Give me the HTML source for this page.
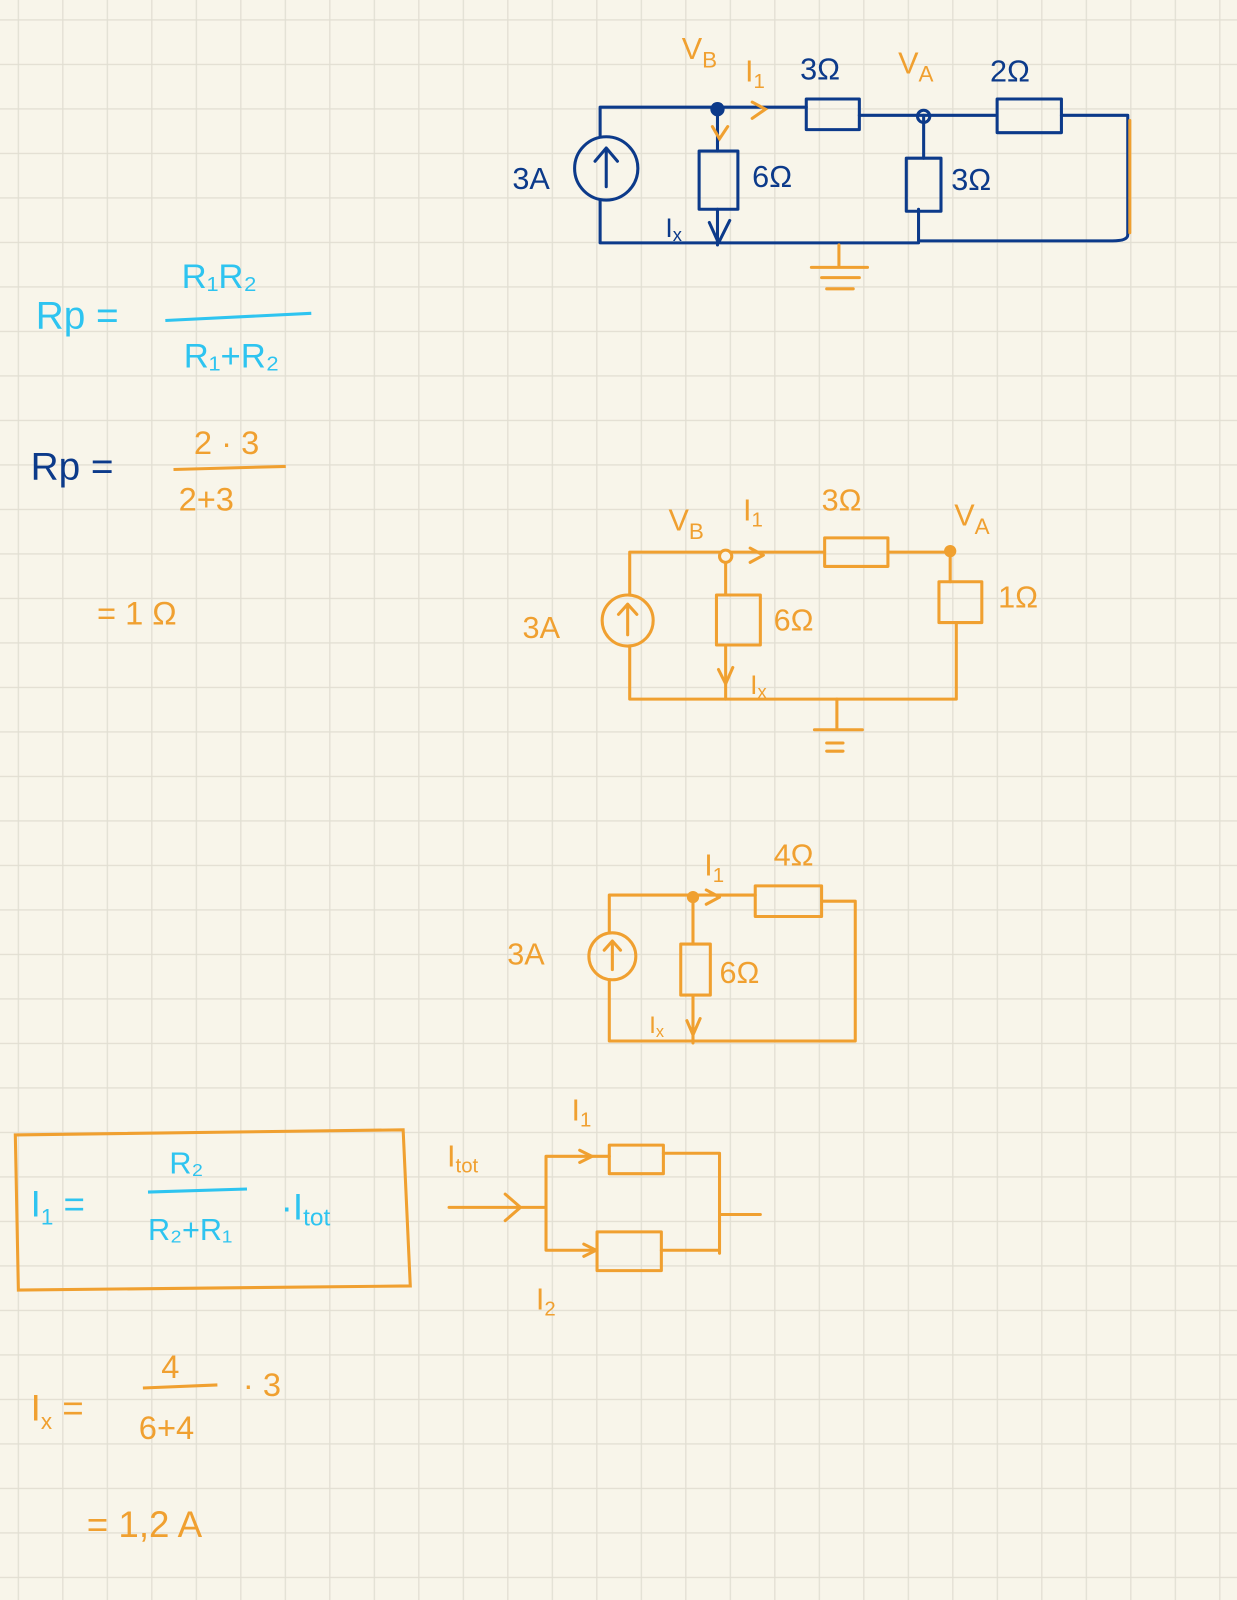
<!DOCTYPE html>
<html><head><meta charset="utf-8"><style>
html,body{margin:0;padding:0;background:#f8f5ea;}
svg{display:block}
text{font-family:"Liberation Sans",sans-serif;}
</style></head><body>
<svg width="1237" height="1600" viewBox="0 0 1237 1600" xmlns="http://www.w3.org/2000/svg">
<defs>
<pattern id="g" x="17.7" y="19.3" width="44.5" height="44.5" patternUnits="userSpaceOnUse">
<path d="M0 0V44.5M0 0H44.5" stroke="#e1ded2" stroke-width="2.5" fill="none"/>
</pattern>
</defs>
<rect width="1237" height="1600" fill="#f8f5ea"/>
<rect width="1237" height="1600" fill="url(#g)"/>
<g transform="scale(1.0206)">

<!-- Top circuit (blue) -->
<g stroke="#0c3a8a" stroke-width="3" fill="none" stroke-linecap="round" stroke-linejoin="round">
<path d="M588 133 V105 H790 M842 113 H975 M1040 113 H1105 V230 Q1105 236 1090 236 H900 M900 205 V236 M588 197 V238 H900"/>
<circle cx="594" cy="165" r="31"/>
<path d="M594 183 V145 M583 158 L594 145 L605 158"/>
<rect x="790" y="97" width="52" height="30"/>
<rect x="977" y="97" width="63" height="33"/>
<path d="M703 107 V148 M703 205 V240"/>
<rect x="685" y="148" width="38" height="57"/>
<path d="M905 113 V155"/>
<rect x="888" y="155" width="34" height="52"/>
<path d="M695 218 L704 238 L715 216"/>
</g>
<circle cx="703" cy="107" r="7" fill="#0c3a8a"/>
<circle cx="905" cy="114" r="6" fill="none" stroke="#0c3a8a" stroke-width="3"/>
<g stroke="#f0a030" stroke-width="3" fill="none" stroke-linecap="round">
<path d="M737 100 L750 107 L737 116 M698 124 L705 136 L713 124 M1107 118 V228"/>
<path d="M822 240 V260 M795 262 H850 M805 272 H842 M810 283 H836"/>
</g>
<g fill="#f0a030" font-size="30">
<text x="668" y="58">V<tspan font-size="22" dy="8">B</tspan></text>
<text x="730" y="80">I<tspan font-size="20" dy="6">1</tspan></text>
<text x="880" y="72">V<tspan font-size="22" dy="8">A</tspan></text>
</g>
<g fill="#0c3a8a" font-size="30">
<text x="784" y="78">3Ω</text>
<text x="970" y="80">2Ω</text>
<text x="502" y="185">3A</text>
<text x="737" y="183">6Ω</text>
<text x="932" y="186">3Ω</text>
<text x="652" y="232" font-size="26">I<tspan font-size="18" dy="4">x</tspan></text>
</g>

<!-- formulas -->
<g fill="#2ec4f0" font-size="38">
<text x="35" y="322">Rp =</text>
<text x="178" y="282" font-size="34">R₁R₂</text>
<text x="180" y="360" font-size="34">R₁+R₂</text>
</g>
<path d="M162 314 L305 307" stroke="#2ec4f0" stroke-width="3"/>
<text x="30" y="470" fill="#0c3a8a" font-size="38">Rp =</text>
<g fill="#f0a030" font-size="32">
<text x="190" y="445">2 · 3</text>
<text x="175" y="500">2+3</text>
<text x="95" y="612">= 1 Ω</text>
</g>
<path d="M170 460 L280 457" stroke="#f0a030" stroke-width="3"/>

<!-- second circuit -->
<g stroke="#f0a030" stroke-width="3" fill="none" stroke-linecap="round" stroke-linejoin="round">
<path d="M617 583 V541 H808 M870 541 H931 M931 541 V570 M937 610 V685 H617 V633"/>
<circle cx="615" cy="608" r="25"/>
<path d="M615 622 V592 M606 602 L615 592 L624 602"/>
<rect x="808" y="527" width="62" height="28"/>
<path d="M711 545 V583 M711 632 V685"/>
<rect x="702" y="583" width="43" height="49"/>
<rect x="920" y="570" width="42" height="40"/>
<path d="M735 537 L748 544 L735 551 M704 656 L711 670 L718 654"/>
<path d="M820 685 V713 M798 715 H845 M810 728 H826 M810 736 H826"/>
</g>
<circle cx="711" cy="545" r="6" fill="#f8f5ea" stroke="#f0a030" stroke-width="3"/>
<circle cx="931" cy="540" r="6" fill="#f0a030"/>
<g fill="#f0a030" font-size="30">
<text x="655" y="520">V<tspan font-size="22" dy="8">B</tspan></text>
<text x="728" y="510">I<tspan font-size="20" dy="6">1</tspan></text>
<text x="805" y="500">3Ω</text>
<text x="935" y="515">V<tspan font-size="22" dy="8">A</tspan></text>
<text x="512" y="625">3A</text>
<text x="758" y="618">6Ω</text>
<text x="978" y="595">1Ω</text>
<text x="735" y="680" font-size="26">I<tspan font-size="18" dy="4">x</tspan></text>
</g>

<!-- third circuit -->
<g stroke="#f0a030" stroke-width="3" fill="none" stroke-linecap="round" stroke-linejoin="round">
<path d="M597 914 V877 H740 M805 883 H838 V1020 H597 V960"/>
<circle cx="600" cy="937" r="23"/>
<path d="M600 950 V922 M592 931 L600 922 L608 931"/>
<rect x="740" y="868" width="65" height="30"/>
<path d="M679 879 V925 M679 975 V1022"/>
<rect x="667" y="925" width="29" height="50"/>
<path d="M692 872 L705 879 L692 886 M673 1000 L679 1014 L686 998"/>
</g>
<circle cx="679" cy="879" r="6" fill="#f0a030"/>
<g fill="#f0a030" font-size="30">
<text x="690" y="858">I<tspan font-size="20" dy="6">1</tspan></text>
<text x="758" y="848">4Ω</text>
<text x="497" y="945">3A</text>
<text x="705" y="963">6Ω</text>
<text x="636" y="1012" font-size="24">I<tspan font-size="16" dy="4">x</tspan></text>
</g>

<!-- box formula -->
<path d="M15 1112 L395 1107 L402 1260 L18 1264 Z" fill="none" stroke="#f0a030" stroke-width="3"/>
<g fill="#2ec4f0" font-size="36">
<text x="30" y="1192">I<tspan font-size="22" dy="8">1</tspan><tspan dy="-8"> =</tspan></text>
<text x="166" y="1150" font-size="30">R₂</text>
<text x="145" y="1215" font-size="30">R₂+R₁</text>
<text x="275" y="1195">·I<tspan font-size="24" dy="6">tot</tspan></text>
</g>
<path d="M145 1168 L242 1165" stroke="#2ec4f0" stroke-width="3"/>

<!-- parallel diagram -->
<g stroke="#f0a030" stroke-width="3" fill="none" stroke-linecap="round" stroke-linejoin="round">
<path d="M440 1183 H535 M495 1170 L510 1183 L495 1196 M535 1133 V1225 M535 1133 H597 M650 1130 H705 V1228 M535 1225 H585 M648 1225 H705 M705 1190 H745"/>
<rect x="597" y="1122" width="53" height="28"/>
<rect x="585" y="1207" width="63" height="38"/>
<path d="M568 1127 L580 1133 L568 1139 M572 1219 L584 1225 L572 1231"/>
</g>
<g fill="#f0a030" font-size="30">
<text x="560" y="1098">I<tspan font-size="20" dy="6">1</tspan></text>
<text x="438" y="1143">I<tspan font-size="20" dy="6">tot</tspan></text>
<text x="525" y="1283">I<tspan font-size="20" dy="6">2</tspan></text>
</g>

<!-- Ix calc -->
<g fill="#f0a030" font-size="36">
<text x="30" y="1392">I<tspan font-size="22" dy="8">x</tspan><tspan dy="-8"> =</tspan></text>
<text x="158" y="1350" font-size="32">4</text>
<text x="136" y="1410" font-size="32">6+4</text>
<text x="238" y="1368" font-size="32">· 3</text>
<text x="85" y="1506">= 1,2 A</text>
</g>
<path d="M140 1360 L213 1357" stroke="#f0a030" stroke-width="3"/>
</g>
</svg>
</body></html>
